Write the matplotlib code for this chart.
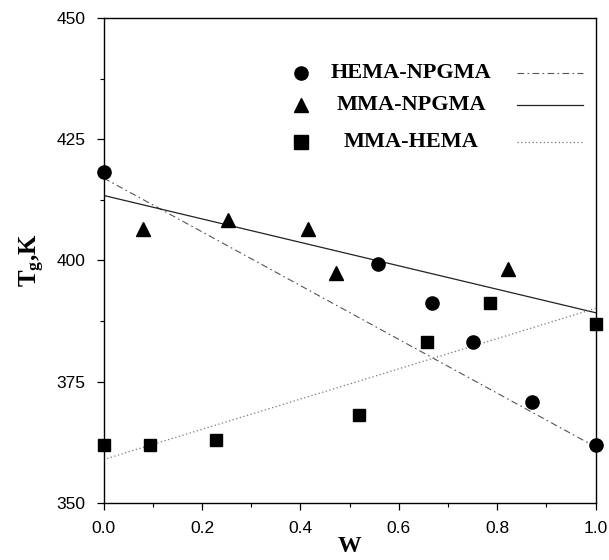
import matplotlib
matplotlib.use("Agg")
import matplotlib.pyplot as plt
from matplotlib.ticker import MultipleLocator
import numpy as np

plt.rcParams['mathtext.fontset'] = 'custom'
plt.rcParams['mathtext.rm'] = 'Liberation Serif:bold'
plt.rcParams['mathtext.it'] = 'Liberation Serif:bold'
plt.rcParams['mathtext.bf'] = 'Liberation Serif:bold'

# --- data ---
series_names = ["HEMA-NPGMA", "MMA-NPGMA", "MMA-HEMA"]

hema_npgma_w = [0.0, 0.557, 0.668, 0.751, 0.870, 1.0]
hema_npgma_tg = [418.2, 399.2, 391.2, 383.1, 370.8, 361.9]

mma_npgma_w = [0.081, 0.252, 0.415, 0.472, 0.821]
mma_npgma_tg = [406.5, 408.4, 406.4, 397.4, 398.3]

mma_hema_w = [0.0, 0.095, 0.229, 0.520, 0.657, 0.786, 1.0]
mma_hema_tg = [362.0, 362.0, 363.0, 368.0, 383.1, 391.2, 386.9]

# fitted curves (end points)
fit_w = [0.0, 1.0]
fit_hema_npgma = [417.0, 361.5]
fit_mma_npgma = [413.4, 389.2]
fit_mma_hema = [358.9, 390.1]

xticks = [0.0, 0.2, 0.4, 0.6, 0.8, 1.0]
yticks = [350, 375, 400, 425, 450]

fig = plt.figure(figsize=(6.09, 5.60), dpi=100)
ax = fig.add_axes([0.170, 0.1023, 0.808, 0.8655])

ms = 9.5
ax.plot(fit_w, fit_hema_npgma, color='#555555', lw=0.8, linestyle=(0, (6, 3, 1.5, 3)))
ax.plot(fit_w, fit_mma_npgma, color='#222222', lw=0.9, linestyle='-')
ax.plot(fit_w, fit_mma_hema, color='#777777', lw=0.9, linestyle=(0, (1, 2)))

ax.plot(hema_npgma_w, hema_npgma_tg, 'o', color='black', ms=ms, clip_on=False, zorder=5)
ax.plot(mma_npgma_w, mma_npgma_tg, '^', color='black', ms=ms, clip_on=False, zorder=5)
ax.plot(mma_hema_w, mma_hema_tg, 's', color='black', ms=ms - 0.5, clip_on=False, zorder=5)

ax.set_xlim(0, 1)
ax.set_ylim(350, 450)
ax.set_xticks(xticks)
ax.set_xticklabels([f"{v:.1f}" for v in xticks])
ax.set_yticks(yticks)
ax.set_yticklabels([str(v) for v in yticks])
ax.xaxis.set_minor_locator(MultipleLocator(0.1))
ax.yaxis.set_minor_locator(MultipleLocator(12.5))
ax.tick_params(which='major', direction='out', length=5, width=0.9, labelsize=12.5, pad=8)
ax.tick_params(which='minor', direction='out', length=3, width=0.8)
for lab in ax.get_xticklabels() + ax.get_yticklabels():
    lab.set_fontfamily('Liberation Sans')
for s in ax.spines.values():
    s.set_linewidth(1.0)

ax.set_xlabel('W', fontfamily='Liberation Serif', fontweight='bold', fontsize=17, labelpad=0)
ax.set_ylabel(r'$\mathrm{T_g}$,K', fontfamily='Liberation Serif', fontweight='bold', fontsize=18, labelpad=7)

# legend
markers = ['o', '^', 's']
styles = [dict(color='#555555', lw=0.8, linestyle=(0, (6, 3, 1.5, 3))),
          dict(color='#222222', lw=0.9, linestyle='-'),
          dict(color='#777777', lw=0.9, linestyle=(0, (1, 2)))]
rows = [0.8865, 0.8205, 0.7442]
for name, mk, st, yy in zip(series_names, markers, styles, rows):
    ax.plot([0.401], [yy], mk, color='black', ms=ms, transform=ax.transAxes)
    ax.text(0.625, yy, name, transform=ax.transAxes, ha='center', va='center',
            fontfamily='Liberation Serif', fontweight='bold', fontsize=16)
    ax.plot([0.840, 0.975], [yy, yy], transform=ax.transAxes, **st)

fig.savefig('out.png', dpi=100)
